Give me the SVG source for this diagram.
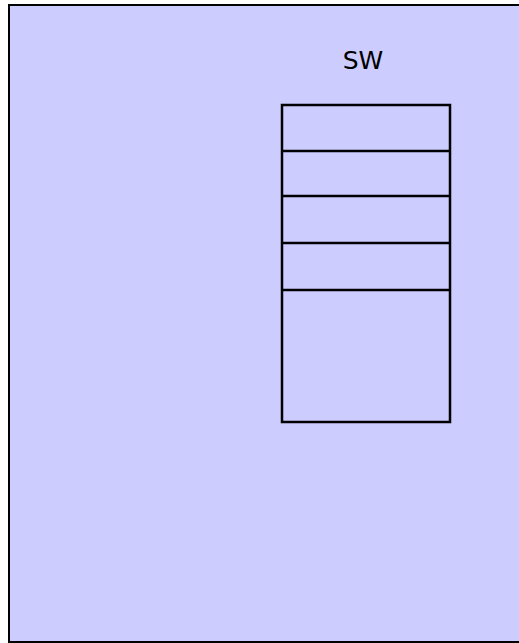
<svg xmlns="http://www.w3.org/2000/svg" width="519" height="643" viewBox="0 0 519 643">
<style>
.box{fill:#CCCCFF;stroke:#000;stroke-width:2}
.cell{fill:none;stroke:#000;stroke-width:2.5}
.lbl{font-family:"DejaVu Sans",sans-serif;font-size:25px;fill:#000;text-anchor:middle}
</style>
<g id="outer">
<rect class="box" x="9" y="5" width="520" height="637"/>
<text class="lbl" x="363" y="69">SW</text>
</g>
<g id="stack">
<rect class="cell" x="282" y="105" width="168" height="317"/>
<line class="cell" x1="282" y1="151" x2="450" y2="151"/>
<line class="cell" x1="282" y1="196" x2="450" y2="196"/>
<line class="cell" x1="282" y1="243" x2="450" y2="243"/>
<line class="cell" x1="282" y1="290" x2="450" y2="290"/>
</g>
<g id="connectors"></g>
</svg>
